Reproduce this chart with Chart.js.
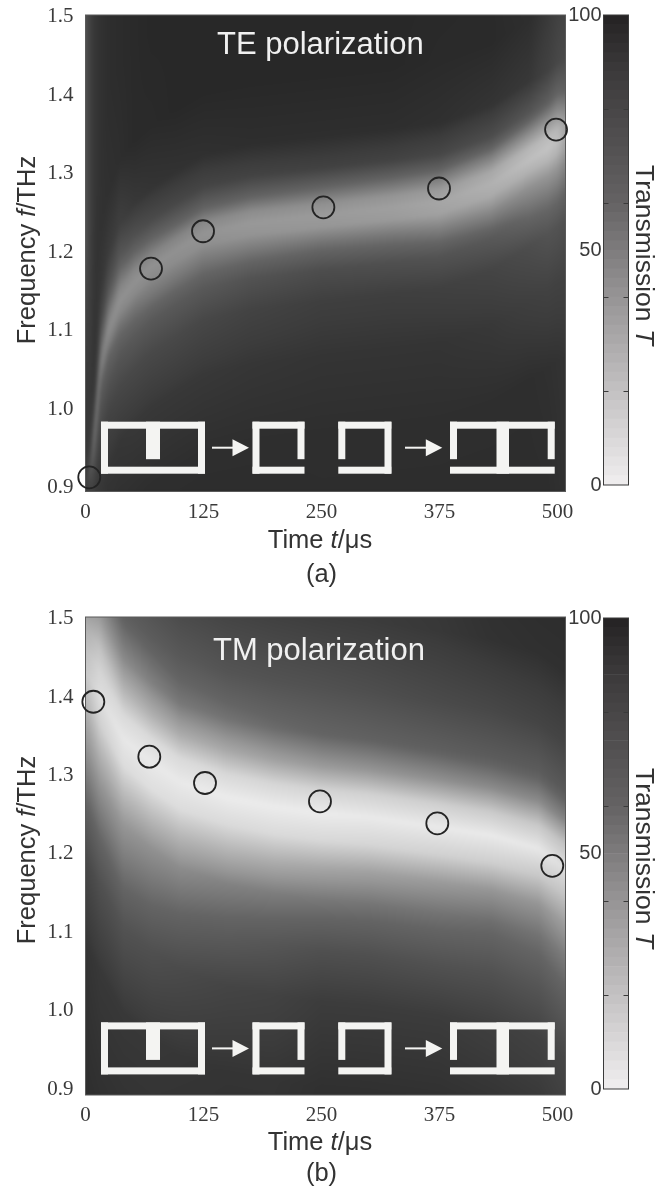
<!DOCTYPE html>
<html><head><meta charset="utf-8">
<style>html,body{margin:0;padding:0;background:#fff;width:668px;height:1188px;overflow:hidden}canvas{position:absolute;display:block}</style>
<script src="https://cdn.jsdelivr.net/npm/chart.js@4"></script>
</head><body>
<canvas id="ca" width="600" height="600" style="left:0;top:0"></canvas>
<canvas id="cb" width="600" height="588" style="left:0;top:600px"></canvas>
<canvas id="ba" width="108" height="600" style="left:560px;top:0"></canvas>
<canvas id="bb" width="108" height="588" style="left:560px;top:600px"></canvas>
<script>
// ---------- data ----------
const xTicks=[0,125,250,375,500];
const yTicks=[0.9,1.0,1.1,1.2,1.3,1.4,1.5];
const barLabels=[0,50,100];
const barMarks=[20,40,60,80];
const barLevels=[0,2,4,6,8,10,12,14,16,18,20,22,24,26,28,30,32,34,36,38,40,42,44,46,48,50,52,54,56,58,60,62,64,66,68,70,72,74,76,78,80,82,84,86,88,90,92,94,96,98,100];
const cmapT=[0,20,40,50,60,74,88,96,100];
const cmapGray=[240,195,150,125,100,80,60,44,36];

// TE panel: transmission across each time column, sampled at offsets from the resonance frequency
const teTimes=[0,5,10,16,24,36,52,70,95,125,175,250,325,375,430,470,490,500,508];
const teRidge=[0.90,0.92,0.97,1.05,1.095,1.135,1.16,1.18,1.20,1.222,1.235,1.245,1.255,1.262,1.285,1.315,1.33,1.34,1.345];
const teOffsets=[-0.50,-0.28,-0.18,-0.11,-0.07,-0.035,-0.015,0,0.015,0.035,0.06,0.10,0.18,0.30];
const teGrid=[
[92,92,92,92,92,92,92,90,90,90,90,90,86,72],
[90,90,90,90,90,88,80,70,80,88,90,90,88,86],
[92,92,92,92,88,74,60,54,62,78,90,92,92,91],
[92,92,92,88,78,68,56,50,54,64,80,90,93,93],
[94,94,92,84,74,62,50,44,48,58,74,88,94,95],
[96,95,91,80,70,56,46,42,46,56,70,86,95,96],
[96,95,90,79,68,54,45,42,46,58,74,90,97,97],
[97,95,90,79,68,52,45,42,47,60,78,92,97,98],
[97,95,90,79,68,52,44,42,47,62,80,93,98,98],
[97,95,90,80,68,52,43,41,46,63,82,94,98,98],
[97,95,91,83,72,52,41,39,44,62,83,95,98,98],
[96,95,92,86,76,54,40,38,43,60,84,95,98,98],
[96,95,92,86,74,52,38,36,41,58,83,95,98,98],
[96,95,92,85,72,49,35,33,38,55,80,94,97,98],
[96,95,90,82,68,45,31,28,32,50,76,92,97,97],
[96,95,86,76,58,42,28,22,26,45,70,90,95,92],
[96,94,84,72,56,40,26,20,24,42,64,84,90,88],
[95,93,84,72,56,40,27,22,26,42,60,80,86,84],
[94,92,84,74,60,46,36,32,34,46,62,78,84,82]];
const teCircleT=[4,69.4,124.5,252,374.5,498.5];
const teCircleF=[0.911,1.177,1.2245,1.255,1.279,1.354];

// TM panel
const tmTimes=[0,15,40,70,100,150,200,250,300,375,430,480,508];
const tmRidge=[1.43,1.40,1.345,1.315,1.29,1.27,1.258,1.25,1.245,1.232,1.222,1.205,1.18];
const tmOffsets=[-0.60,-0.35,-0.24,-0.175,-0.11,-0.07,-0.035,0,0.03,0.06,0.10,0.16,0.25,0.40];
const tmGrid=[
[96,92,80,64,46,36,26,18,22,30,46,64,76,80],
[96,90,74,58,40,26,14,8,12,20,38,60,76,82],
[96,90,72,56,40,24,9,4,10,25,44,64,80,86],
[96,90,74,58,42,24,8,3,10,28,48,66,82,88],
[96,91,78,62,44,26,9,3,10,30,52,68,84,90],
[96,92,82,66,48,28,10,2,11,32,54,71,85,90],
[96,92,84,70,50,30,10,2,12,35,57,72,86,90],
[96,94,88,74,52,33,11,2,13,38,60,73,87,90],
[96,94,88,74,53,35,12,3,14,40,62,75,88,92],
[96,94,88,73,54,38,14,3,15,42,64,78,90,93],
[95,93,86,73,56,40,15,3,17,44,66,80,93,96],
[95,92,84,70,54,40,18,4,18,44,66,82,94,97],
[94,90,80,66,50,36,20,8,20,46,68,82,94,97]];
const tmCircleT=[8.3,67.6,126.6,248.4,372.7,494.5];
const tmCircleF=[1.392,1.322,1.2885,1.265,1.237,1.183];

// ---------- helpers ----------
const SANS='"Liberation Sans",Arial,sans-serif', SERIF='"Liberation Serif","Times New Roman",serif';
function lerpTable(v,xs,ys){
  if(v<=xs[0])return ys[0];
  for(let i=1;i<xs.length;i++) if(v<=xs[i]) return ys[i-1]+(ys[i]-ys[i-1])*(v-xs[i-1])/(xs[i]-xs[i-1]);
  return ys[ys.length-1];
}
function grayOf(T){return lerpTable(T,cmapT,cmapGray);}
function cssGray(T){const g=Math.round(grayOf(T));return `rgb(${g},${Math.max(0,g-2)},${Math.max(0,g-1)})`;}
function runs(ctx,parts,x,y,rot,size,color,center){
  ctx.save();ctx.translate(x,y);ctx.rotate(rot);ctx.fillStyle=color;ctx.textBaseline='alphabetic';ctx.textAlign='left';
  let tw=0;parts.forEach(p=>{ctx.font=`${p.i?'italic ':''}${size}px ${SANS}`;tw+=ctx.measureText(p.t).width;});
  let cx=center?-tw/2:0;
  parts.forEach(p=>{ctx.font=`${p.i?'italic ':''}${size}px ${SANS}`;ctx.fillText(p.t,cx,0);cx+=ctx.measureText(p.t).width;});
  ctx.restore();
}
function paintHeat(chart,cfg){
  const a=chart.chartArea,ctx=chart.ctx,sx=chart.scales.x,sy=chart.scales.y;
  const w=Math.ceil(a.right-a.left),h=Math.ceil(a.bottom-a.top);
  if(!chart.$heat){
    const off=document.createElement('canvas');off.width=w;off.height=h;
    const oc=off.getContext('2d'),img=oc.createImageData(w,h);
    const times=cfg.times,grid=cfg.grid;
    const xs=times.map(t=>sx.getPixelForValue(t)-a.left);
    for(let px=0;px<w;px++){
      let i=xs.length-2,u=1;
      for(let k=0;k<xs.length-1;k++){ if(px+.5<=xs[k+1]){i=k;u=Math.max(0,Math.min(1,(px+.5-xs[k])/(xs[k+1]-xs[k])));break;} }
      const rf=cfg.ridge[i]*(1-u)+cfg.ridge[i+1]*u;
      for(let py=0;py<h;py++){
        const df=sy.getValueForPixel(a.top+py+.5)-rf;
        const T=lerpTable(df,cfg.offsets,grid[i])*(1-u)+lerpTable(df,cfg.offsets,grid[i+1])*u;
        const g=grayOf(T),o=(py*w+px)*4;
        img.data[o]=g;img.data[o+1]=g;img.data[o+2]=g;img.data[o+3]=255;
      }
    }
    oc.putImageData(img,0,0);chart.$heat=off;
  }
  ctx.save();ctx.beginPath();ctx.rect(a.left,a.top,a.right-a.left,a.bottom-a.top);ctx.clip();
  ctx.drawImage(chart.$heat,a.left,a.top);
  ctx.filter='blur(1.5px)';ctx.drawImage(chart.$heat,a.left,a.top);ctx.filter='none';
  ctx.restore();
  ctx.save();ctx.strokeStyle='#5a5a5a';ctx.lineWidth=1;
  ctx.strokeRect(a.left,a.top,a.right-a.left,a.bottom-a.top);ctx.restore();
}
function drawIcons(ctx,y0){
  const T=y0,B=y0+52,sw=7,fill=(x,y,w,h)=>ctx.fillRect(x,y,w,h);
  ctx.save();ctx.fillStyle='#f4f4f2';
  fill(101,T,104,sw);fill(101,B-sw,104,sw);fill(101,T,sw,B-T);fill(198,T,sw,B-T);fill(146,T,14,37.5);
  fill(252.5,T,52,sw);fill(252.5,B-sw,52,sw);fill(252.5,T,sw,B-T);fill(297.5,T,sw,37.5);
  fill(338.3,T,53,sw);fill(338.3,B-sw,53,sw);fill(384.5,T,sw,B-T);fill(338.3,T,sw,37.5);
  fill(450,T,104.7,sw);fill(450,B-sw,104.7,sw);fill(450,T,sw,37.5);fill(547.7,T,sw,37.5);fill(496.5,T,12.5,B-T);
  [[212,249],[405,442.3]].forEach(([a,b])=>{
    fill(a,y0+25,b-a-14,2);
    ctx.beginPath();ctx.moveTo(b-16.5,y0+17.5);ctx.lineTo(b,y0+26);ctx.lineTo(b-16.5,y0+34.5);ctx.closePath();ctx.fill();
  });
  ctx.restore();
}
function panel(id,cfg){
  const H=document.getElementById(id).height;
  return new Chart(document.getElementById(id),{
    type:'scatter',
    data:{datasets:[{data:cfg.ct.map((t,i)=>({x:t,y:cfg.cf[i]})),pointStyle:'circle',pointRadius:11,
      pointBorderWidth:1.8,pointBorderColor:'#232323',pointBackgroundColor:'rgba(0,0,0,0)',showLine:false,clip:false}]},
    options:{responsive:false,animation:false,devicePixelRatio:1,
      layout:{padding:{left:0,top:cfg.top,right:600-565.5,bottom:0}},
      plugins:{legend:{display:false},tooltip:{enabled:false}},
      scales:{
        x:{type:'linear',min:0,max:508.5,afterBuildTicks:s=>{s.ticks=xTicks.map(v=>({value:v}));},
          afterFit:s=>{s.height=H-cfg.bottom;},
          grid:{display:false,drawTicks:false},border:{display:false},
          ticks:{padding:8,color:'#3a3a3a',font:{family:SERIF,size:21},maxRotation:0,callback:v=>String(v)}},
        y:{type:'linear',min:cfg.ymin,max:1.5,afterBuildTicks:s=>{s.ticks=yTicks.map(v=>({value:v}));},
          afterFit:s=>{s.width=85.5;s.paddingTop=0;s.paddingBottom=0;},
          grid:{display:false,drawTicks:false},border:{display:false},
          ticks:{padding:12,labelOffset:1.5,color:'#3a3a3a',font:{family:SERIF,size:21},callback:v=>v.toFixed(1)}}
      }},
    plugins:[{id:'heat',
      beforeDatasetsDraw(c){paintHeat(c,cfg);drawIcons(c.ctx,cfg.iconY);
        const ctx=c.ctx;ctx.save();ctx.font=`31px ${SANS}`;ctx.fillStyle='#f0f0f0';ctx.textBaseline='alphabetic';ctx.textAlign='left';
        ctx.fillText(cfg.title,cfg.titleX,cfg.titleY);ctx.restore();},
      afterDraw(c){const ctx=c.ctx;
        runs(ctx,[{t:'Frequency '},{t:'f',i:true},{t:'/THz'}],35,cfg.freqY,-Math.PI/2,25.5,'#333',true);
        runs(ctx,[{t:'Time '},{t:'t',i:true},{t:'/μs'}],320,cfg.timeY,0,25.5,'#333',true);
        runs(ctx,[{t:cfg.tag}],321.5,cfg.tagY,0,25.5,'#333',true);}
    }]
  });
}
function colorbar(id,cfg){
  const H=document.getElementById(id).height;
  const sets=[];
  for(let i=0;i<barLevels.length-1;i++){
    sets.push({data:[[barLevels[i],barLevels[i+1]]],backgroundColor:cssGray((barLevels[i]+barLevels[i+1])/2),borderWidth:0,grouped:false,barPercentage:1,categoryPercentage:1});
  }
  return new Chart(document.getElementById(id),{
    type:'bar',data:{labels:['T'],datasets:sets},
    options:{responsive:false,animation:false,devicePixelRatio:1,
      layout:{padding:{left:0,top:cfg.top,right:39.5,bottom:H-cfg.bottom}},
      plugins:{legend:{display:false},tooltip:{enabled:false}},
      scales:{x:{display:false},
        y:{type:'linear',min:0,max:100,afterBuildTicks:s=>{s.ticks=barLabels.map(v=>({value:v}));},
          afterFit:s=>{s.width=43.5;s.paddingTop=0;s.paddingBottom=0;},grid:{display:false,drawTicks:false},border:{display:false},
          ticks:{padding:2,color:'#3a3a3a',font:{family:SANS,size:20},callback:v=>String(v)}}}},
    plugins:[{id:'frame',afterDraw(c){const ctx=c.ctx,a=c.chartArea,y=c.scales.y;
      ctx.save();ctx.strokeStyle='#3a3a3a';ctx.lineWidth=1;
      ctx.strokeRect(a.left,a.top,a.right-a.left,a.bottom-a.top);
      barMarks.forEach(v=>{const p=Math.round(y.getPixelForValue(v))+.5;
        ctx.beginPath();ctx.moveTo(a.left,p);ctx.lineTo(a.left+5,p);ctx.moveTo(a.right-5,p);ctx.lineTo(a.right,p);ctx.stroke();});
      ctx.restore();
      runs(ctx,[{t:'Transmission '},{t:'T',i:true}],76,cfg.titleY,Math.PI/2,26.5,'#333',false);}
    }]
  });
}
panel('ca',{top:15,bottom:491.5,ymin:0.893,ct:teCircleT,cf:teCircleF,times:teTimes,ridge:teRidge,offsets:teOffsets,grid:teGrid,
  iconY:421.7,title:'TE polarization',titleX:217,titleY:54,freqY:250,timeY:548,tag:'(a)',tagY:582});
panel('cb',{top:17,bottom:495,ymin:0.891,ct:tmCircleT,cf:tmCircleF,times:tmTimes,ridge:tmRidge,offsets:tmOffsets,grid:tmGrid,
  iconY:422.4,title:'TM polarization',titleX:213,titleY:60,freqY:250,timeY:549.5,tag:'(b)',tagY:581});
colorbar('ba',{top:15,bottom:485,titleY:165});
colorbar('bb',{top:18,bottom:489,titleY:168});
</script>
</body></html>
